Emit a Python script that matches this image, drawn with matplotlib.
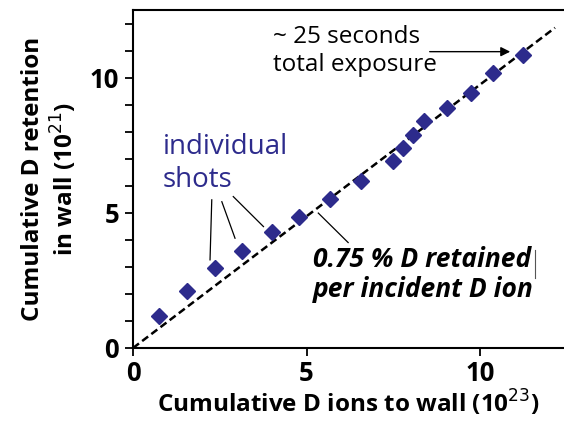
import numpy as np
import matplotlib
matplotlib.use("Agg")
import matplotlib.pyplot as plt
from matplotlib.ticker import MultipleLocator

plt.rcParams['font.family'] = ['Open Sans', 'DejaVu Sans']

# cumulative D ions to wall (1e23) and D retained in wall (1e21), one per shot
ions = [0.76, 1.55, 2.36, 3.15, 4.00, 4.78, 5.68, 6.56, 7.48, 7.77, 8.06, 8.39, 9.06, 9.73, 10.37, 11.23]
retained = [1.19, 2.11, 2.95, 3.60, 4.28, 4.86, 5.52, 6.16, 6.93, 7.39, 7.89, 8.38, 8.88, 9.43, 10.17, 10.83]

# dashed reference line (as drawn on the figure)
fit_x = [0.0, 12.16]
fit_slope = 0.974

navy = '#2d2b8c'

fig = plt.figure(figsize=(5.64, 4.21), dpi=100)
ax = fig.add_axes([0.2358, 0.1734, 0.7642, 0.8028])

fx = np.array(fit_x)
ax.plot(fx, fit_slope * fx, ls=(0, (3, 1.6)), color='black', lw=1.8, zorder=2)
ax.plot(ions, retained, 'D', color=navy, ms=8.5, mec=navy, zorder=3, clip_on=False)

ax.set_xlim(0, 12.42)
ax.set_ylim(0, 12.5)
ax.xaxis.set_major_locator(MultipleLocator(5))
ax.yaxis.set_major_locator(MultipleLocator(5))
ax.yaxis.set_minor_locator(MultipleLocator(1))
ax.tick_params(which='both', direction='out', length=6, width=1.3, labelsize=18.5, pad=4)
ax.tick_params(axis='x', pad=3)
for lab in ax.get_xticklabels() + ax.get_yticklabels():
    lab.set_fontweight('bold')
ax.spines['right'].set_visible(False)
for s in ['left', 'bottom', 'top']:
    ax.spines[s].set_linewidth(1.5)

ax.set_xlabel('Cumulative D ions to wall (10$^{23}$)', fontsize=17.5, fontweight='bold', labelpad=1)
ax.set_ylabel('Cumulative D retention\nin wall (10$^{21}$)', fontsize=17.5, fontweight='bold',
              labelpad=7, linespacing=1.2)

# annotations
ax.text(0.86, 5.96, 'individual\nshots', color=navy, fontsize=20, va='baseline', ha='left',
        linespacing=1.22)
for (x0, y0), (x1, y1) in [((2.27, 5.48), (2.22, 3.26)),
                           ((2.56, 5.41), (2.94, 4.06)),
                           ((2.89, 5.60), (3.76, 4.49)),
                           ((5.34, 4.99), (6.20, 3.90))]:
    ax.plot([x0, x1], [y0, y1], color='black', lw=0.9, zorder=1)

ax.text(4.03, 10.26, '~ 25 seconds\ntotal exposure', fontsize=17.5, va='baseline', ha='left',
        linespacing=1.2)
ax.annotate('', xy=(10.95, 10.96), xytext=(8.47, 10.96),
            arrowprops=dict(arrowstyle='-|>', color='black', lw=1.0, mutation_scale=14))

ax.text(5.19, 1.89, '0.75 % D retained\nper incident D ion', fontsize=19, fontweight='bold',
        fontstyle='italic', va='baseline', ha='left', linespacing=1.15)
# small stray cursor mark after "retained"
ax.plot([11.58, 11.58], [2.59, 3.63], color='#555555', lw=0.8)

fig.savefig('out.png', dpi=100)
